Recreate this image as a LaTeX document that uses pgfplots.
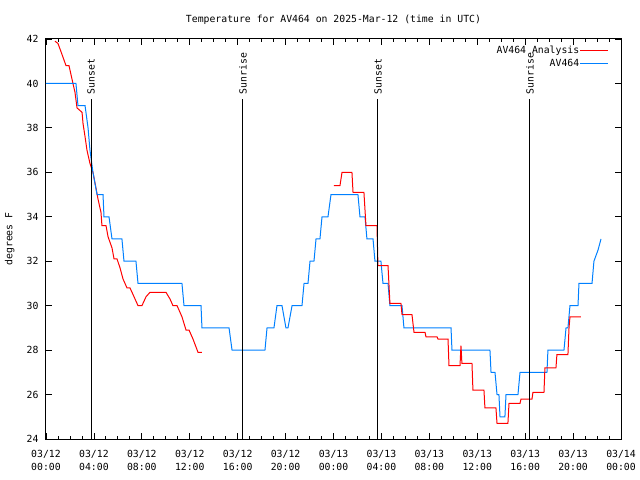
\documentclass[border=0pt]{standalone}
\usepackage{fontspec}
\setmainfont{DejaVu Sans Mono}
\usepackage{pgfplots}
\pgfplotsset{compat=1.18}
\definecolor{gred}{RGB}{255,0,0}
\definecolor{gblue}{RGB}{0,128,255}
\newcommand{\gf}{\fontsize{9.8bp}{12.5bp}\selectfont}
\begin{document}
\begin{tikzpicture}
\begin{axis}[
 at={(0,0)}, anchor=south west,
 scale only axis, width=575bp, height=400bp,
 xmin=0, xmax=48, ymin=24, ymax=42,
 xtick={0,4,...,48},
 xticklabels={{03/12\\00:00},{03/12\\04:00},{03/12\\08:00},{03/12\\12:00},{03/12\\16:00},{03/12\\20:00},{03/13\\00:00},{03/13\\04:00},{03/13\\08:00},{03/13\\12:00},{03/13\\16:00},{03/13\\20:00},{03/14\\00:00}},
 minor x tick num=3,
 ytick={24,26,...,42},
 tick align=inside,
 major tick length=6bp, minor tick length=3bp,
 tick style={black, line width=0.8bp},
 axis line style={black, line width=1bp},
 every tick label/.append style={font=\gf},
 xticklabel style={align=center, yshift=-8bp},
 yticklabel style={xshift=-4bp},
 /pgf/number format/assume math mode=true,
 ylabel={degrees F},
 ylabel style={font=\gf, at={(axis description cs:-0.063,0.5)}, anchor=center},
 title={Temperature for AV464 on 2025-Mar-12 (time in UTC)},
 title style={font=\gf, at={(axis description cs:0.5,1)}, anchor=center, yshift=13bp},
 legend style={at={(rel axis cs:0.979,0.985)}, anchor=north east, draw=none, fill=none,
   font=\gf, inner sep=0pt, row sep=2.5bp,
   nodes={inner sep=0.5bp, text height=7.5bp, text depth=2bp},
   /tikz/every even column/.append style={column sep=7bp}},
 legend plot pos=right, legend cell align=right,
 legend image code/.code={\draw[#1] (0bp,0bp) -- (28bp,0bp);},
 clip mode=individual,
]
% Red (analysis), first segment
\addplot[gred, line width=1bp] coordinates {
(0.75,41.9) (1.00,41.8) (1.34,41.3) (1.67,40.8) (1.92,40.8) (2.25,40.0) (2.42,39.6)
(2.59,38.9) (3.01,38.7) (3.09,38.2) (3.26,37.6) (3.42,37.0) (3.67,36.4) (3.92,36.0)
(4.17,35.3) (4.34,34.8) (4.59,34.2) (4.67,33.6) (5.01,33.6) (5.18,33.1) (5.51,32.6)
(5.68,32.1) (5.93,32.1) (6.18,31.7) (6.43,31.2) (6.76,30.8) (7.01,30.8) (7.35,30.4)
(7.68,30.0) (8.01,30.0) (8.35,30.4) (8.68,30.6) (10.02,30.6) (10.35,30.3) (10.60,30.0)
(10.94,30.0) (11.35,29.5) (11.69,28.9) (11.94,28.9) (12.27,28.5) (12.69,27.9) (13.02,27.9)
};
\addlegendentry{AV464 Analysis}
% Blue (observed)
\addplot[gblue, line width=1bp] coordinates {
(0,40) (2.50,40) (2.67,39) (3.26,39) (3.51,38) (3.67,37) (3.92,36) (4.26,35) (4.76,35)
(4.84,34) (5.26,34) (5.51,33) (6.34,33) (6.51,32) (7.51,32) (7.68,31) (11.35,31)
(11.52,30) (12.94,30) (13.02,29) (15.28,29) (15.53,28) (18.28,28) (18.45,29) (19.03,29)
(19.28,30) (19.70,30) (20.03,29) (20.20,29) (20.54,30) (21.37,30) (21.54,31) (21.87,31)
(22.04,32) (22.37,32) (22.54,33) (22.87,33) (23.04,34) (23.54,34) (23.79,35) (26.04,35)
(26.21,34) (26.63,34) (26.79,33) (27.30,33) (27.46,32) (27.96,32) (28.13,31) (28.55,31)
(28.71,30) (29.72,30) (29.88,29) (33.81,29) (33.89,28) (37.06,28) (37.15,27) (37.48,27)
(37.65,26) (37.81,26) (37.90,25) (38.31,25) (38.40,26) (39.40,26) (39.57,27) (41.82,27)
(41.90,28) (43.24,28) (43.41,29) (43.57,29) (43.74,30) (44.41,30) (44.49,31) (45.58,31)
(45.74,32) (46.08,32.5) (46.33,33)
};
\addlegendentry{AV464}
% Red (analysis), second segment
\addplot[gred, line width=1bp, forget plot] coordinates {
(24.04,35.4) (24.54,35.4) (24.71,36.0) (25.54,36.0) (25.63,35.1) (26.54,35.1) (26.71,33.6)
(27.63,33.6) (27.71,31.8) (28.55,31.8) (28.71,30.1) (29.63,30.1) (29.72,29.6) (30.55,29.6)
(30.72,28.8) (31.64,28.8) (31.72,28.6) (32.64,28.6) (32.72,28.5) (33.56,28.5) (33.64,27.3)
(34.56,27.3) (34.64,28.2) (34.72,27.4) (35.56,27.4) (35.64,26.2) (36.56,26.2) (36.64,25.4)
(37.56,25.4) (37.65,24.7) (38.56,24.7) (38.65,25.6) (39.57,25.6) (39.65,25.8) (40.57,25.8)
(40.65,26.1) (41.57,26.1) (41.65,27.2) (42.57,27.2) (42.65,27.8) (43.57,27.8) (43.66,29.0)
(43.74,29.5) (44.66,29.5)
};
% Sunset / sunrise markers
\addplot[black, line width=1bp, forget plot] coordinates {(3.76,24) (3.76,39.3)};
\addplot[black, line width=1bp, forget plot] coordinates {(16.44,24) (16.44,39.3)};
\addplot[black, line width=1bp, forget plot] coordinates {(27.71,24) (27.71,39.3)};
\addplot[black, line width=1bp, forget plot] coordinates {(40.40,24) (40.40,39.3)};
\node[rotate=90, anchor=west, inner sep=0pt, font=\gf] at (axis cs:3.76,39.5) {Sunset};
\node[rotate=90, anchor=west, inner sep=0pt, font=\gf] at (axis cs:16.44,39.5) {Sunrise};
\node[rotate=90, anchor=west, inner sep=0pt, font=\gf] at (axis cs:27.71,39.5) {Sunset};
\node[rotate=90, anchor=west, inner sep=0pt, font=\gf] at (axis cs:40.40,39.5) {Sunrise};
\end{axis}
\pgfresetboundingbox
\path[use as bounding box] (-46bp,-41bp) rectangle (594bp,439bp);
\end{tikzpicture}
\end{document}
